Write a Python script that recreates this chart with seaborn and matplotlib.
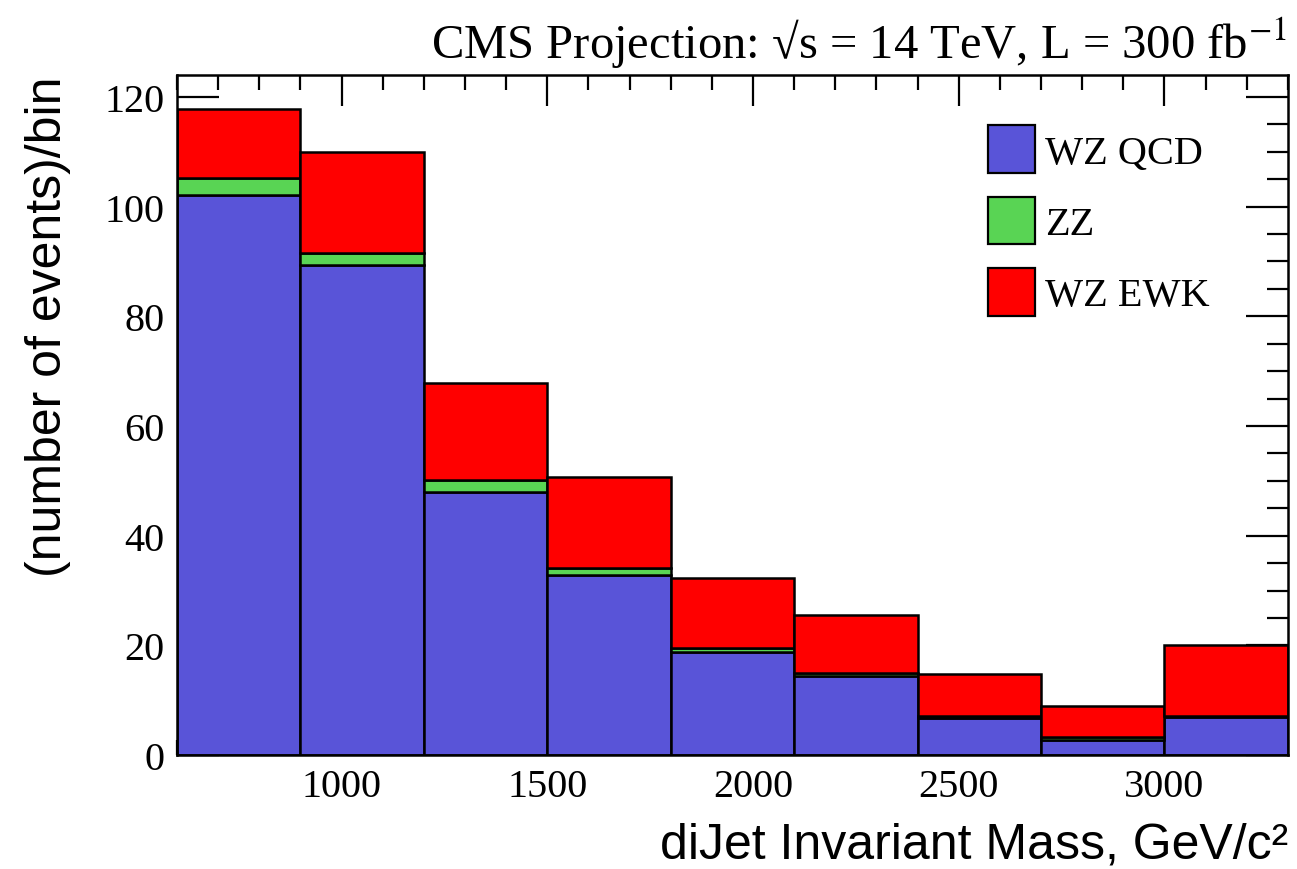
import numpy as np
import pandas as pd
import matplotlib
matplotlib.use("Agg")
import matplotlib.pyplot as plt
from matplotlib.patches import Patch
from matplotlib.ticker import MultipleLocator
import seaborn as sns

# Dijet invariant mass binning (GeV/c^2)
bin_edges = [600, 900, 1200, 1500, 1800, 2100, 2400, 2700, 3000, 3300]

# Expected events per bin for each process
wz_qcd = [102.2, 89.4, 48.0, 32.8, 18.8, 14.4, 6.8, 2.7, 6.9]
zz = [3.0, 2.1, 2.1, 1.3, 0.8, 0.6, 0.3, 0.6, 0.2]
wz_ewk = [12.6, 18.5, 17.8, 16.6, 12.6, 10.6, 7.6, 5.6, 12.9]

process_names = ["WZ QCD", "ZZ", "WZ EWK"]
process_colors = {"WZ QCD": "#5954d8", "ZZ": "#59d454", "WZ EWK": "#ff0000"}

centers = [(lo + hi) / 2 for lo, hi in zip(bin_edges[:-1], bin_edges[1:])]
frames = []
for name, vals in zip(process_names, [wz_qcd, zz, wz_ewk]):
    frames.append(pd.DataFrame({"mass": centers, "events": vals, "process": name}))
df = pd.concat(frames, ignore_index=True)

sns.set_style("ticks")
plt.rcParams["font.family"] = ["Liberation Serif", "DejaVu Serif"]
plt.rcParams["mathtext.fontset"] = "stix"
for key in ["text.color", "axes.labelcolor", "xtick.color", "ytick.color", "axes.edgecolor"]:
    plt.rcParams[key] = "black"

fig = plt.figure(figsize=(12.97, 8.70), dpi=100)
ax = fig.add_axes([0.1365, 0.131, 0.8565, 0.7816])

# seaborn stacks the first hue level on top, so list the bottom layer last
sns.histplot(
    data=df, x="mass", weights="events", hue="process",
    hue_order=["WZ EWK", "ZZ", "WZ QCD"], palette=process_colors,
    bins=bin_edges, multiple="stack", element="bars",
    alpha=1.0, edgecolor="black", linewidth=1.8, shrink=1.0,
    legend=False, ax=ax,
)

ax.set_xlim(600, 3300)
ax.set_ylim(0, 124)
ax.xaxis.set_major_locator(MultipleLocator(500))
ax.xaxis.set_minor_locator(MultipleLocator(100))
ax.yaxis.set_major_locator(MultipleLocator(20))
ax.yaxis.set_minor_locator(MultipleLocator(5))
ax.tick_params(which="both", direction="in", top=True, right=True, width=1.6,
               labelsize=29, colors="black")
ax.tick_params(axis="x", which="major", length=22, pad=9)
ax.tick_params(axis="x", which="minor", length=11)
ax.tick_params(axis="y", which="major", length=30, pad=9)
ax.tick_params(axis="y", which="minor", length=15)
for s in ax.spines.values():
    s.set_linewidth(1.8)
    s.set_color("black")
    s.set_visible(True)

ax.set_xlabel("diJet Invariant Mass, GeV/c²", fontsize=36,
              family=["Liberation Sans", "DejaVu Sans"], loc="right", labelpad=12)
ax.set_ylabel("(number of events)/bin", fontsize=36,
              family=["Liberation Sans", "DejaVu Sans"], loc="top", labelpad=24)

fig.text(0.992, 0.918, r"CMS Projection: √s = 14 TeV, L = 300 fb$^{-1}$",
         ha="right", va="bottom", fontsize=35)

handles = [Patch(facecolor=process_colors[n], edgecolor="black", linewidth=1.6)
           for n in process_names]
ax.legend(handles, process_names, loc="upper left", bbox_to_anchor=(0.730, 0.926),
          frameon=False, fontsize=29, handlelength=1.17, handleheight=1.45,
          labelspacing=0.58, handletextpad=0.25, borderaxespad=0, borderpad=0)

fig.savefig("out.png", dpi=100)
